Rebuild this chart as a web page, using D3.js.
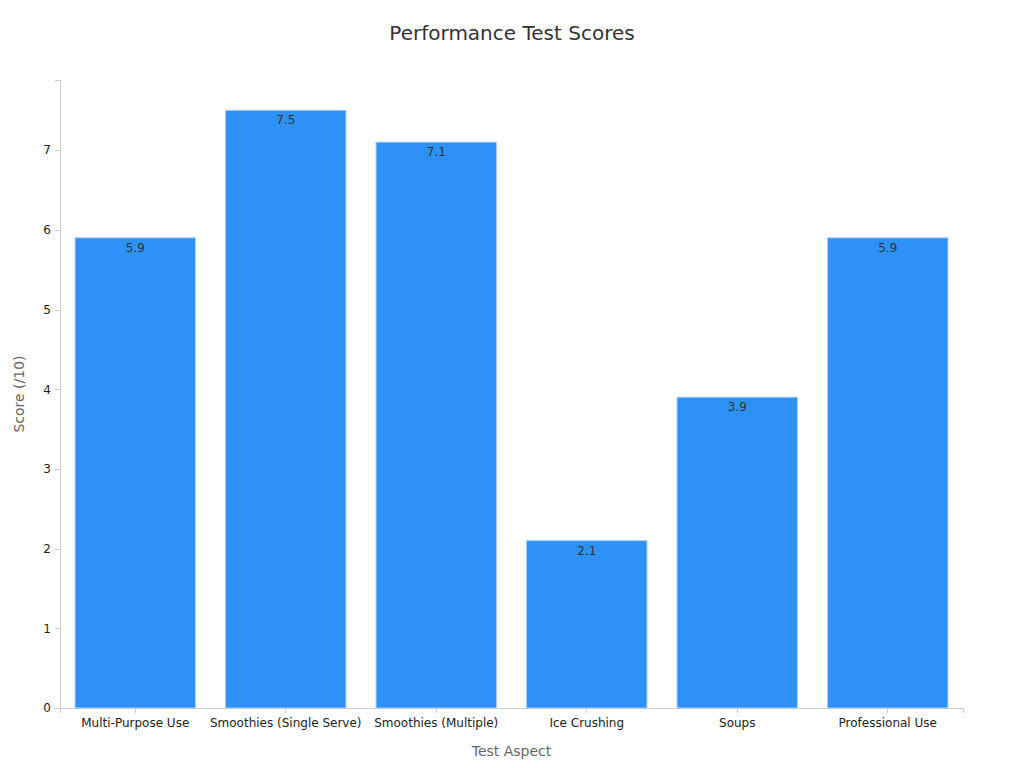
<!DOCTYPE html>
<meta charset="utf-8">
<head>
  <meta charset="UTF-8">
</head>
<style>
body { margin: 0; font-family: "DejaVu Sans", sans-serif; background: #fff; }
.axis text { font-family: "DejaVu Sans", sans-serif; font-size: 12px; fill: #222; }
.axis path, .axis line { stroke: #ccc; shape-rendering: crispEdges; }
.bar { fill: #2d91f8; stroke: #a8cdf7; stroke-width: 1; }
.label { font-size: 12px; fill: #333; }
</style>
<body>
<script src="https://cdn.jsdelivr.net/npm/d3@7"></script>
<script>
// data
var aspects = ["Multi-Purpose Use", "Smoothies (Single Serve)", "Smoothies (Multiple)", "Ice Crushing", "Soups", "Professional Use"];
var scores = [5.9, 7.5, 7.1, 2.1, 3.9, 5.9];
var yTicks = [0, 1, 2, 3, 4, 5, 6, 7];

var margin = {top: 80, right: 61, bottom: 60, left: 60},
    width = 1024 - margin.left - margin.right,
    height = 768 - margin.top - margin.bottom;

var svg = d3.select("body").append("svg")
    .attr("width", 1024)
    .attr("height", 768);

var g = svg.append("g")
    .attr("transform", "translate(" + margin.left + "," + margin.top + ")");

var x = d3.scaleBand()
    .domain(aspects)
    .range([0, width])
    .paddingInner(0.2)
    .paddingOuter(0.1);

var y = d3.scaleLinear()
    .domain([0, 7.88])
    .range([height, 0]);

g.append("g")
    .attr("class", "axis x")
    .attr("transform", "translate(0," + height + ")")
    .call(d3.axisBottom(x).tickSize(5).tickPadding(5));

g.append("g")
    .attr("class", "axis y")
    .call(d3.axisLeft(y).tickValues(yTicks).tickSize(5).tickPadding(4));

g.selectAll(".bar")
    .data(scores)
  .enter().append("rect")
    .attr("class", "bar")
    .attr("x", function(d, i) { return x(aspects[i]); })
    .attr("y", function(d) { return y(d); })
    .attr("width", x.bandwidth())
    .attr("height", function(d) { return height - y(d); });

g.selectAll(".label")
    .data(scores)
  .enter().append("text")
    .attr("class", "label")
    .attr("text-anchor", "middle")
    .attr("x", function(d, i) { return x(aspects[i]) + x.bandwidth() / 2; })
    .attr("y", function(d) { return y(d) + 14; })
    .text(function(d) { return d.toFixed(1); });

// titles
svg.append("text")
    .attr("x", 512)
    .attr("y", 40)
    .attr("text-anchor", "middle")
    .style("font-size", "20px")
    .style("fill", "#333")
    .text("Performance Test Scores");

svg.append("text")
    .attr("x", margin.left + width / 2)
    .attr("y", 756)
    .attr("text-anchor", "middle")
    .style("font-size", "14px")
    .style("fill", "#666")
    .text("Test Aspect");

svg.append("text")
    .attr("transform", "translate(24," + (margin.top + height / 2) + ") rotate(-90)")
    .attr("text-anchor", "middle")
    .style("font-size", "14px")
    .style("fill", "#666")
    .text("Score (/10)");
</script>
</body>
